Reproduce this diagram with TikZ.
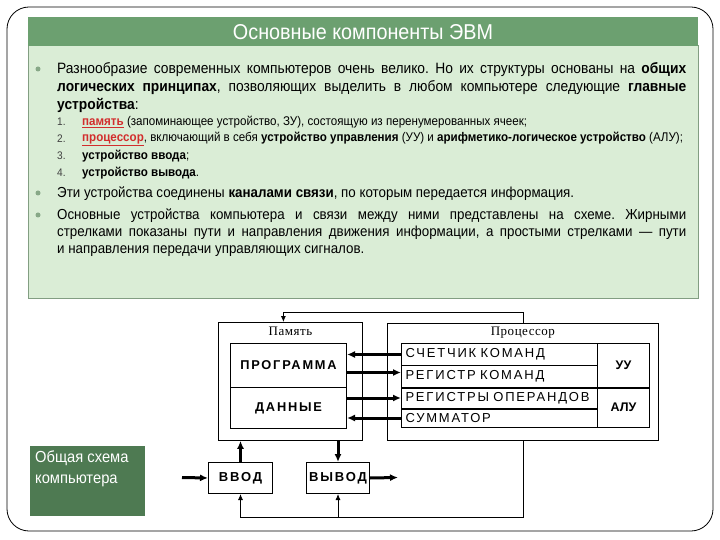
\documentclass[tikz,border=0pt]{standalone}
\usepackage{fontspec}
\setmainfont{Liberation Sans}
\newfontfamily\narrowfont{Liberation Sans}[FakeStretch=0.92]
\newfontfamily\spacedfont{Liberation Sans}[LetterSpace=14]
\newfontfamily\serffont{Liberation Serif}[LetterSpace=4]
\usetikzlibrary{arrows.meta,positioning}
\definecolor{titlegreen}{RGB}{108,160,112}
\definecolor{panegreen}{RGB}{218,237,214}
\definecolor{paneedge}{RGB}{130,158,130}
\definecolor{darkgreen}{RGB}{78,122,82}
\definecolor{bulletgreen}{RGB}{135,168,135}
\definecolor{redword}{RGB}{210,45,45}
\tikzset{
  mytext/.style = {anchor=north west, inner sep=0pt, align=justify, font=\narrowfont\fontsize{15}{18}\selectfont},
  myitem/.style = {anchor=west, inner sep=0pt, font=\narrowfont\fontsize{12.6}{14}\selectfont},
  mynum/.style = {anchor=west, inner sep=0pt, text=black!75, font=\narrowfont\fontsize{11}{12}\selectfont},
  mybullet/.style = {circle, fill=bulletgreen, inner sep=0pt, minimum size=5pt},
  myouter/.style = {draw, line width=0.8pt, anchor=north west, inner sep=0pt},
  mycell/.style = {draw, line width=1pt, anchor=north west, inner sep=0pt},
  myrow/.style = {mycell, minimum height=22pt, text width=188pt, inner xsep=4pt, align=left, font=\spacedfont\fontsize{13}{14}\selectfont},
  mybigarrow/.style = {-{Latex[length=8pt,width=7pt]}, line width=3pt},
  mythinarrow/.style = {-{Latex[length=6pt,width=5pt]}, line width=0.8pt},
}
\newcommand{\redword}[1]{\textcolor{redword}{\underline{\textbf{#1}}}}
\frenchspacing

\begin{document}
\begin{tikzpicture}[x=1pt, y=-1pt]
\useasboundingbox (0,0) rectangle (720,540);
% frame and panels
\draw[line width=0.8pt, rounded corners=22pt] (7,7) rectangle (713,531);
\fill[panegreen] (28,46) rectangle (698,298);
\draw[paneedge, line width=1pt] (28,46) rectangle (698,298);
\fill[titlegreen] (28,17) rectangle (698,46);
\node[text=white, font=\narrowfont\fontsize{21.5}{24}\selectfont] (title) at (363,32) {Основные компоненты ЭВМ};

% text
\node[mybullet] (b1) at (38,69) {};
\node[mytext, text width=629pt] (intro) at (57,62.5)
  {Разнообразие современных компьютеров очень велико. Но их структуры основаны на \textbf{общих}\linebreak
   \textbf{логических принципах}, позволяющих выделить в любом компьютере следующие \textbf{главные}\linebreak
   \textbf{устройства}:};
\node[mynum] (n1) at (57,122) {1.};
\node[mynum] (n2) at (57,139) {2.};
\node[mynum] (n3) at (57,156) {3.};
\node[mynum] (n4) at (57,173) {4.};
\node[myitem] (i1) at (82,122) {\redword{память} (запоминающее устройство, ЗУ), состоящую из перенумерованных ячеек;};
\node[myitem] (i2) at (82,139) {\redword{процессор}, включающий в себя \textbf{устройство управления} (УУ) и \textbf{арифметико-логическое устройство} (АЛУ);};
\node[myitem] (i3) at (82,156) {\textbf{устройство ввода};};
\node[myitem] (i4) at (82,173) {\textbf{устройство вывода}.};
\node[mybullet] (b2) at (38,193) {};
\node[mytext, text width=629pt, font=\narrowfont\fontsize{14.5}{17}\selectfont] (links) at (57,186.5)
  {Эти устройства соединены \textbf{каналами связи}, по которым передается информация.};
\node[mybullet] (b3) at (38,215) {};
\node[mytext, text width=629pt, font=\narrowfont\fontsize{14.5}{16.8}\selectfont] (scheme) at (57,208.5)
  {Основные устройства компьютера и связи между ними представлены на схеме. Жирными\linebreak
   стрелками показаны пути и направления движения информации, а простыми стрелками — пути\linebreak
   и направления передачи управляющих сигналов.};

% note box
\fill[darkgreen] (30,446) rectangle (145,516);
\node[anchor=north west, align=left, text=white, inner sep=0pt, font=\narrowfont\fontsize{16}{21}\selectfont] (note) at (35,451) {Общая схема\\компьютера};

% memory
\node[myouter, minimum width=144pt, minimum height=118pt] (mem) at (218,322) {};
\node[font=\serffont\fontsize{13}{14}\selectfont, below=1pt of mem.north] (memlbl) {Память};
\node[mycell, minimum width=116pt, minimum height=44pt, font=\spacedfont\bfseries\fontsize{12.8}{14}\selectfont] (prog) at (230,343) {ПРОГРАММА};
\node[mycell, minimum width=116pt, minimum height=41pt, font=\spacedfont\bfseries\fontsize{12.8}{14}\selectfont] (data) at (230,387) {ДАННЫЕ};

% processor
\node[myouter, minimum width=271pt, minimum height=117pt] (proc) at (387,322.5) {};
\node[font=\serffont\fontsize{13}{14}\selectfont, below=1pt of proc.north] (proclbl) {Процессор};
\node[myrow] (cnt) at (401,343) {СЧЕТЧИК КОМАНД};
\node[myrow] (reg) at (401,365) {РЕГИСТР КОМАНД};
\node[myrow, minimum height=21pt] (ops) at (401,387) {РЕГИСТРЫ ОПЕРАНДОВ};
\node[myrow, minimum height=19pt] (sum) at (401,408) {СУММАТОР};
\node[mycell, minimum width=52pt, minimum height=44pt, font=\bfseries\fontsize{12.5}{14}\selectfont] (uu) at (597,343) {УУ};
\node[mycell, minimum width=52pt, minimum height=40pt, font=\bfseries\fontsize{12.5}{14}\selectfont] (alu) at (597,387) {АЛУ};
\draw[line width=2.6pt] (reg.south west) -- (uu.south east);
\draw[line width=2.6pt] (ops.south west) -- (ops.south east);

% input / output
\node[mycell, minimum width=64pt, minimum height=31pt, font=\spacedfont\bfseries\fontsize{13}{14}\selectfont] (vvod) at (208,462) {ВВОД};
\node[mycell, minimum width=63pt, minimum height=31pt, font=\spacedfont\bfseries\fontsize{13}{14}\selectfont] (vyvod) at (306,462) {ВЫВОД};
\coordinate (in) at (182,477.5);
\coordinate (out) at (398,477.5);

% data paths
\draw[mybigarrow] (cnt.west) -- (cnt.west -| prog.east);
\draw[mybigarrow] ([yshift=4pt]reg.west -| prog.east) -- ([yshift=4pt]reg.west);
\draw[mybigarrow] (ops.west -| data.east) -- (ops.west);
\draw[mybigarrow] (sum.west) -- (sum.west -| data.east);
\draw[mybigarrow] (vvod.north) -- (vvod.north |- mem.south);
\draw[mybigarrow] (mem.south -| vyvod.north) -- (vyvod.north);
\draw[mybigarrow] (in) -- (vvod.west);
\draw[mybigarrow] (vyvod.east) -- (out);

% control paths
\draw[mythinarrow] (proc.north) -- ++(0,-10) -| ([xshift=-7pt]mem.north);
\draw[mythinarrow] (proc.south) -- (proc.south |- 0,517) -| (vvod.south);
\draw[mythinarrow] (vyvod.south |- 0,517) -- (vyvod.south);
\end{tikzpicture}
\end{document}
